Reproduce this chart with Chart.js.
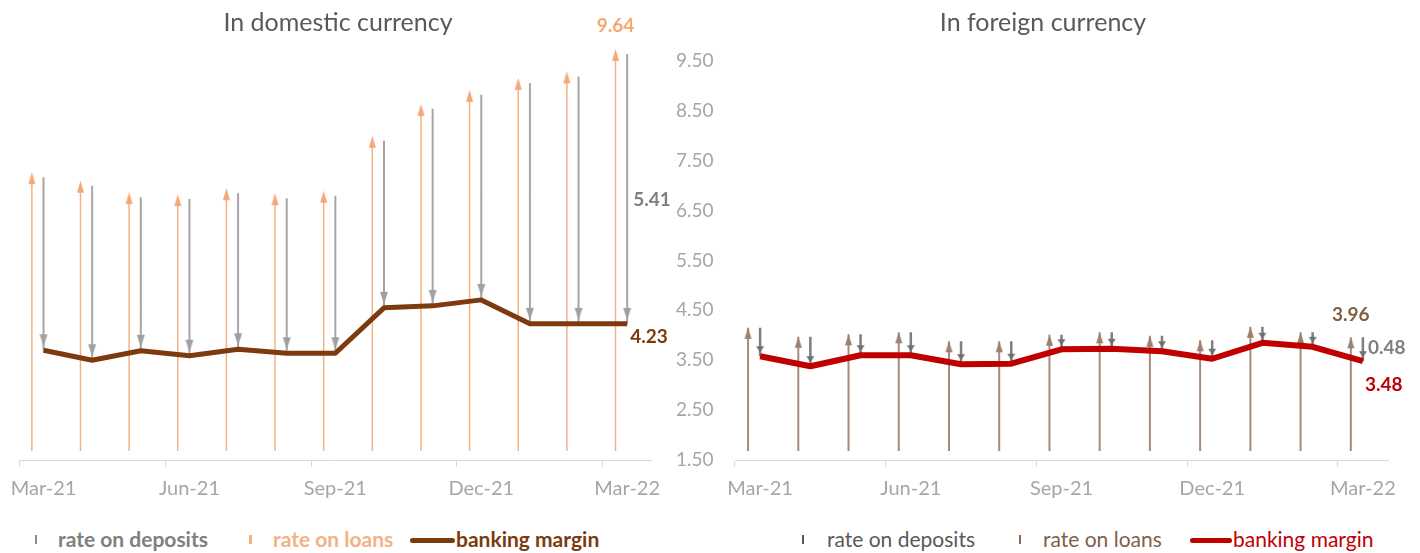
<!DOCTYPE html>
<html>
<head>
<meta charset="utf-8">
<title>Interest rates – banking margin</title>
<script src="https://cdn.jsdelivr.net/npm/chart.js@4.4.1/dist/chart.umd.min.js"></script>
<style>
  body   { margin: 0; background: #fff; font-family: Lato, "Open Sans", sans-serif; }
  #wrap  { position: relative; width: 1420px; height: 553px; overflow: hidden; }
  canvas { position: absolute; top: 0; }
  #cDom  { left: 0; }
  #cFx   { left: 715px; }
  .title { position: absolute; top: 6px; font-size: 25px; color: #595959; transform: translateX(-50%); white-space: nowrap; }
  .leg   { position: absolute; top: 526px; font-size: 21px; line-height: 26px; white-space: nowrap; }
  .ico   { position: absolute; }
</style>
</head>
<body>
<div id="wrap">
    <canvas id="cDom" width="725" height="505"></canvas>
    <canvas id="cFx"  width="705" height="505"></canvas>

    <div class="title" style="left:338px">In domestic currency</div>
    <div class="title" style="left:1043px">In foreign currency</div>

    <!-- legend: domestic -->
    <span class="ico" style="left:35px;top:535px;width:2px;height:9px;background:#8C8C8C"></span>
    <span class="leg" style="left:58px;color:#7F7F7F;font-weight:bold">rate on deposits</span>
    <span class="ico" style="left:249px;top:535px;width:3px;height:9px;background:#F4B183"></span>
    <span class="leg" style="left:273px;color:#F4B183;font-weight:bold">rate on loans</span>
    <span class="ico" style="left:410px;top:538px;width:45px;height:5px;border-radius:3px;background:#7C3A0E"></span>
    <span class="leg" style="left:456px;color:#7C3A0E;font-weight:bold">banking margin</span>

    <!-- legend: foreign -->
    <span class="ico" style="left:802px;top:535px;width:2px;height:9px;background:#595959"></span>
    <span class="leg" style="left:827px;color:#595959">rate on deposits</span>
    <span class="ico" style="left:1019px;top:535px;width:2px;height:9px;background:#8A6A55"></span>
    <span class="leg" style="left:1043px;color:#7F5F4A">rate on loans</span>
    <span class="ico" style="left:1190px;top:538px;width:42px;height:5px;border-radius:3px;background:#C00000"></span>
    <span class="leg" style="left:1233px;color:#C00000">banking margin</span>
</div>

<script>
/* =========================================================
   DATA – monthly rates, Mar-21 .. Mar-22
========================================================= */
const months = ["Mar-21", "Apr-21", "May-21", "Jun-21", "Jul-21", "Aug-21", "Sep-21",
                "Oct-21", "Nov-21", "Dec-21", "Jan-22", "Feb-22", "Mar-22"];
const labelledMonths = ["Mar-21", "Jun-21", "Sep-21", "Dec-21", "Mar-22"];
const yTicks = [1.5, 2.5, 3.5, 4.5, 5.5, 6.5, 7.5, 8.5, 9.5];

// in domestic currency
const loansDom    = [7.17, 7.00, 6.77, 6.73, 6.85, 6.75, 6.80, 7.90, 8.54, 8.82, 9.06, 9.19, 9.64];
const depositsDom = [3.47, 3.50, 3.08, 3.14, 3.13, 3.11, 3.16, 3.35, 3.95, 4.11, 4.83, 4.96, 5.41];
const marginDom   = [3.70, 3.50, 3.69, 3.59, 3.72, 3.64, 3.64, 4.55, 4.59, 4.71, 4.23, 4.23, 4.23];

// in foreign currency
const loansFx    = [4.15, 3.97, 4.02, 4.06, 3.88, 3.88, 4.01, 4.06, 3.99, 3.90, 4.17, 4.06, 3.96];
const depositsFx = [0.57, 0.59, 0.42, 0.46, 0.46, 0.45, 0.29, 0.33, 0.31, 0.37, 0.32, 0.29, 0.48];
const marginFx   = [3.58, 3.38, 3.60, 3.60, 3.42, 3.43, 3.72, 3.73, 3.68, 3.53, 3.85, 3.77, 3.48];


/* =========================================================
   HELPERS
   - loan arrows sit a bit left of the month, deposit arrows on it
   - each arrow = 3 points: start, tip, gap (null breaks the line)
========================================================= */
const LOAN_SHIFT = -0.24;
const ARROW_BASE = 1.68;   // loan arrows start just above the axis
const last = months.length - 1;

function arrowData(shift, from, to) {
    const pts = [];
    months.forEach((m, i) => {
        const a = Array.isArray(from) ? from[i] : from;
        pts.push({ x: i + shift, y: a });
        pts.push({ x: i + shift, y: to[i] });
        pts.push({ x: i + shift, y: null });
    });
    return pts;
}

// small arrowhead drawn on a canvas, used as pointStyle (centred on the point)
function makeHead(color, w, h, dir, tipOffset) {
    const half = h + Math.abs(tipOffset) + 1;
    const c = document.createElement("canvas");
    c.width = w + 2;
    c.height = half * 2;
    const g = c.getContext("2d");
    const cx = c.width / 2;
    const tipY  = dir === "up" ? half - tipOffset : half + tipOffset;
    const baseY = dir === "up" ? tipY + h : tipY - h;
    g.fillStyle = color;
    g.beginPath();
    g.moveTo(cx, tipY);
    g.lineTo(cx + w / 2, baseY);
    g.lineTo(cx - w / 2, baseY);
    g.closePath();
    g.fill();
    return c;
}

function arrowDataset(data, color, width, head, order) {
    return {
        type: "line",
        data: data,
        borderColor: color,
        borderWidth: width,
        borderCapStyle: "butt",
        spanGaps: false,
        tension: 0,
        pointStyle: head,
        pointRadius: ctx => (ctx.dataIndex % 3 === 1 ? 3 : 0),
        pointHoverRadius: 0,
        order: order
    };
}


/* =========================================================
   PLUGIN – value labels for the last month
========================================================= */
const valueLabels = {
    id: "valueLabels",
    afterDatasetsDraw(chart, args, opts) {
        const { ctx, scales: { x, y } } = chart;
        ctx.save();
        ctx.font = "bold 19px Lato, sans-serif";
        ctx.textBaseline = "middle";
        (opts.items || []).forEach(it => {
            ctx.fillStyle = it.color;
            ctx.textAlign = it.align;
            ctx.fillText(it.text, x.getPixelForValue(it.x) + it.dx, y.getPixelForValue(it.y) + it.dy);
        });
        ctx.restore();
    }
};


/* =========================================================
   SCALES – shared look for both panels
========================================================= */
function xScale() {
    return {
        type: "linear",
        min: -0.5,
        max: 12.5,
        afterBuildTicks: s => { s.ticks = months.map((m, i) => ({ value: i })); },
        afterFit: s => { s.height = 45; },
        ticks: {
            autoSkip: false,
            maxRotation: 0,
            padding: 10,
            color: "#A6A6A6",
            font: { family: "Lato", size: 20 },
            callback: v => (labelledMonths.includes(months[v]) ? months[v] : "")
        },
        grid: {
            offset: true,
            drawOnChartArea: false,
            drawTicks: true,
            tickLength: 7,
            color: ctx => (ctx.index % 3 === 0 ? "#D9D9D9" : "rgba(0,0,0,0)")
        },
        border: { display: true, color: "#D9D9D9", width: 1 }
    };
}

function yScale(show) {
    const s = {
        type: "linear",
        display: show,
        position: "right",
        min: 1.5,
        max: 9.9,
        afterBuildTicks: sc => { sc.ticks = yTicks.map(v => ({ value: v })); },
        ticks: {
            padding: 24.5,
            color: "#A6A6A6",
            font: { family: "Lato", size: 19 },
            callback: v => v.toFixed(2)
        },
        grid: { display: false, drawTicks: false },
        border: { display: false }
    };
    if (show) s.afterFit = sc => { sc.width = 73.5; };
    return s;
}

const baseOptions = (padding, labels) => ({
    responsive: false,
    animation: false,
    events: [],
    layout: { padding: padding },
    plugins: {
        legend: { display: false },
        tooltip: { enabled: false },
        valueLabels: { items: labels }
    }
});


/* =========================================================
   CHART 1 – in domestic currency
========================================================= */
new Chart(document.getElementById("cDom"), {
    type: "line",
    data: {
        datasets: [
            {
                data: marginDom.map((v, i) => ({ x: i, y: v })),
                borderColor: "#7C3A0E",
                borderWidth: 5,
                borderJoinStyle: "round",
                pointRadius: 0,
                tension: 0,
                order: 0
            },
            arrowDataset(arrowData(0, loansDom, marginDom), "#A6A6A6", 2,
                         makeHead("#A0A0A0", 8, 12, "down", -4), 1),
            arrowDataset(arrowData(LOAN_SHIFT, ARROW_BASE, loansDom), "#F4B183", 1.5,
                         makeHead("#F4A875", 7, 12, "up", 5), 2)
        ]
    },
    options: Object.assign(baseOptions({ top: 41, left: 17.3, right: 0, bottom: 0 }, [
        { text: loansDom[last].toFixed(2),    x: last + LOAN_SHIFT, y: loansDom[last],
          dx: 0, dy: -28, align: "center", color: "#F4A871" },
        { text: depositsDom[last].toFixed(2), x: last, y: (loansDom[last] + marginDom[last]) / 2,
          dx: 6, dy: 11, align: "left", color: "#7F7F7F" },
        { text: marginDom[last].toFixed(2),   x: last, y: marginDom[last],
          dx: 3, dy: 13, align: "left", color: "#7C3A0E" }
    ]), {
        scales: { x: xScale(), y: yScale(true) }
    }),
    plugins: [valueLabels]
});


/* =========================================================
   CHART 2 – in foreign currency (same y range, axis hidden)
========================================================= */
new Chart(document.getElementById("cFx"), {
    type: "line",
    data: {
        datasets: [
            {
                data: marginFx.map((v, i) => ({ x: i, y: v })),
                borderColor: "#C00000",
                borderWidth: 6,
                borderJoinStyle: "round",
                pointRadius: 0,
                tension: 0,
                order: 0
            },
            arrowDataset(arrowData(0, loansFx, marginFx), "#7F7F7F", 2.5,
                         makeHead("#6F6F6F", 8, 6, "down", -4), 1),
            arrowDataset(arrowData(LOAN_SHIFT, ARROW_BASE, loansFx), "#A58B7C", 2,
                         makeHead("#9C7F6E", 7, 11, "up", 0), 2)
        ]
    },
    options: Object.assign(baseOptions({ top: 41, left: 20, right: 32, bottom: 0 }, [
        { text: loansFx[last].toFixed(2),    x: last + LOAN_SHIFT, y: loansFx[last],
          dx: 0, dy: -22, align: "center", color: "#7F5F3F" },
        { text: depositsFx[last].toFixed(2), x: last, y: (loansFx[last] + marginFx[last]) / 2,
          dx: 5, dy: -1, align: "left", color: "#7F7F7F" },
        { text: marginFx[last].toFixed(2),   x: last, y: marginFx[last],
          dx: 2, dy: 24, align: "left", color: "#C00000" }
    ]), {
        scales: { x: xScale(), y: yScale(false) }
    }),
    plugins: [valueLabels]
});
</script>
</body>
</html>
